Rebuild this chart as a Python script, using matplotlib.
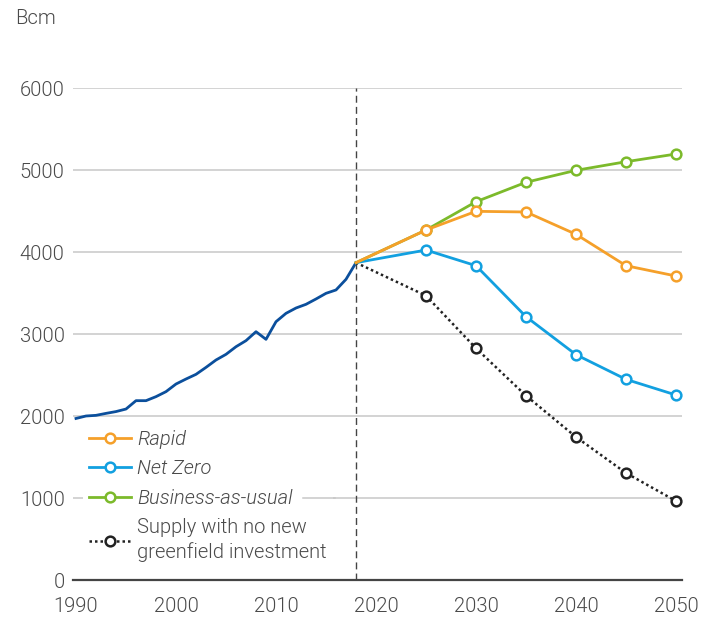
import matplotlib
matplotlib.use("Agg")
import matplotlib.pyplot as plt
import matplotlib.transforms as mtransforms
from matplotlib.lines import Line2D

plt.rcParams['font.family'] = ['Roboto', 'DejaVu Sans']
plt.rcParams['font.weight'] = 300

# Historical gas demand, 1990-2018 (Bcm)
hist_years = list(range(1990, 2019))
hist_values = [1970, 2000, 2008, 2032, 2054, 2085, 2187, 2187, 2236, 2297,
               2390, 2451, 2508, 2593, 2683, 2752, 2845, 2919, 3028, 2935,
               3150, 3252, 3317, 3362, 3427, 3496, 3537, 3667, 3870]

# Scenario projections (Bcm)
proj_years = [2018, 2025, 2030, 2035, 2040, 2045, 2050]
rapid = [3870, 4268, 4496, 4488, 4216, 3833, 3707]
net_zero = [3870, 4024, 3833, 3211, 2748, 2447, 2256]
bau = [3870, 4268, 4613, 4850, 4996, 5101, 5195]
no_new_supply = [3870, 3467, 2826, 2248, 1744, 1305, 963]

x_ticks = [1990, 2000, 2010, 2020, 2030, 2040, 2050]
y_ticks = [0, 1000, 2000, 3000, 4000, 5000, 6000]

text_color = '#4a4a4a'
grid_color = '#c8c8c8'
c_hist = '#0B4F9C'
c_rapid = '#F5A02A'
c_nz = '#12A0E0'
c_bau = '#7CBA2B'
c_supply = '#222222'
fs = 14.5

fig = plt.figure(figsize=(7.18, 6.17), dpi=100)
ax = fig.add_axes([73 / 718, 37 / 617, 609 / 718, 492 / 617])

ax.set_xlim(1989.7, 2050.6)
ax.set_ylim(0, 6000)

ax.set_yticks(y_ticks)
ax.set_xticks(x_ticks)
ax.grid(axis='y', color=grid_color, linewidth=1.1)
ax.set_axisbelow(True)
for s in ['top', 'right', 'left']:
    ax.spines[s].set_visible(False)
ax.spines['bottom'].set_color('#444444')
ax.spines['bottom'].set_linewidth(1.6)
ax.tick_params(axis='both', length=0, labelsize=fs, colors=text_color)
ax.tick_params(axis='y', pad=6)
ax.tick_params(axis='x', pad=12)

ax.axvline(2018, color='#444444', linestyle=(0, (5, 3)), linewidth=1.0, zorder=1)

mk = dict(marker='o', markersize=7, markerfacecolor='white', markeredgewidth=1.8)
lw = 2.0
dotted = (0, (1, 1.2))

ax.plot(hist_years, hist_values, color=c_hist, linewidth=lw, zorder=3)
ax.plot(proj_years[1:], no_new_supply[1:], color=c_supply, linestyle='none',
        markeredgecolor=c_supply, zorder=4, **mk)
ax.plot(proj_years, no_new_supply, color=c_supply, linestyle=dotted,
        linewidth=1.8, zorder=3)
ax.plot(proj_years[1:], net_zero[1:], color=c_nz, linestyle='none',
        markeredgecolor=c_nz, zorder=5, **mk)
ax.plot(proj_years, net_zero, color=c_nz, linewidth=lw, zorder=4)
ax.plot(proj_years[1:], bau[1:], color=c_bau, linestyle='none',
        markeredgecolor=c_bau, zorder=5, clip_on=False, **mk)
ax.plot(proj_years, bau, color=c_bau, linewidth=lw, zorder=4)
ax.plot(proj_years[1:], rapid[1:], color=c_rapid, linestyle='none',
        markeredgecolor=c_rapid, zorder=6, **mk)
ax.plot(proj_years, rapid, color=c_rapid, linewidth=lw, zorder=5)

handles = [
    Line2D([], [], color=c_rapid, linewidth=lw, markeredgecolor=c_rapid, **mk),
    Line2D([], [], color=c_nz, linewidth=lw, markeredgecolor=c_nz, **mk),
    Line2D([], [], color=c_bau, linewidth=lw, markeredgecolor=c_bau, **mk),
    Line2D([], [], color=c_supply, linewidth=1.8, linestyle=dotted,
           markeredgecolor=c_supply, **mk),
]
labels = ['Rapid', 'Net Zero', 'Business-as-usual',
          'Supply with no new\ngreenfield investment']
leg = ax.legend(handles, labels, loc='lower left', bbox_to_anchor=(0.0, 0.004),
                frameon=True, facecolor='white', edgecolor='none', framealpha=1,
                fontsize=fs, handlelength=2.1, handletextpad=0.3,
                labelspacing=0.52, borderpad=0.3, fancybox=False)
for i, t in enumerate(leg.get_texts()):
    t.set_color(text_color)
    t.set_linespacing(1.3)
    if i < 3:
        t.set_fontstyle('italic')
leg.set_zorder(2)

fig.text(15 / 718, 1 - 19 / 617, 'Bcm', fontsize=fs, color=text_color,
         ha='left', va='center')

# The legend panel only blanks the gridline up to the end of the
# "Business-as-usual" label; redraw the rest of that gridline.
fig.canvas.draw()
renderer = fig.canvas.get_renderer()
bau_box = leg.get_texts()[2].get_window_extent(renderer)
leg_box = leg.get_window_extent(renderer)
inv = ax.transAxes.inverted()
x0 = inv.transform((bau_box.x1 + 10, 0))[0]
x1 = inv.transform((leg_box.x1 + 2, 0))[0]
trans = mtransforms.blended_transform_factory(ax.transAxes, ax.transData)
ax.plot([x0, x1], [y_ticks[1], y_ticks[1]], color=grid_color, linewidth=1.1,
        transform=trans, zorder=2.5)

fig.savefig('out.png', dpi=100)
